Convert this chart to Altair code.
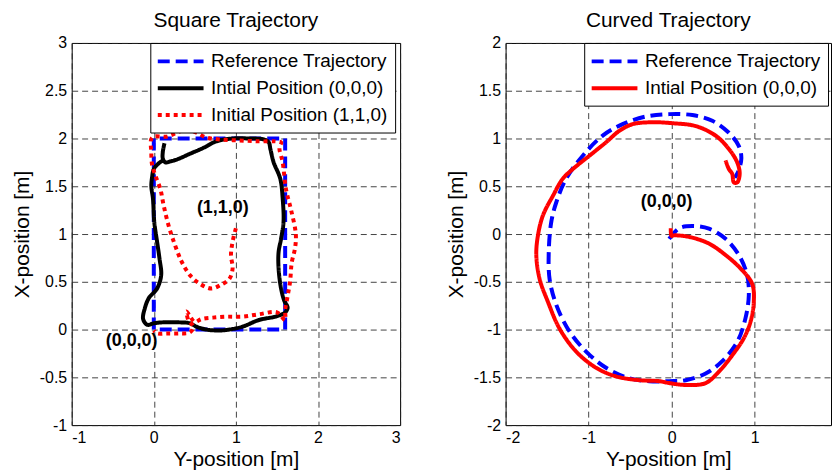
import altair as alt
import pandas as pd

FONT = "Liberation Sans"

# ---------------- Square trajectory (horizontal = Y-position, vertical = X-position)
sq_ref_y = [0, 0, 1.6, 1.6, 0]
sq_ref_x = [0, 2, 2, 0, 0]

sq_b_y = [0.13, 0.11, 0.11, 0.14, 0.2, 0.28, 0.44, 0.6, 0.76, 0.96, 1.16, 1.34, 1.4, 1.42,
          1.46, 1.54, 1.57, 1.58, 1.55, 1.52, 1.52, 1.55, 1.59, 1.63, 1.6, 1.5, 1.28, 1.08,
          0.92, 0.8, 0.64, 0.52, 0.44, 0.28, 0.12, 0.0, -0.08, -0.13, -0.11, -0.06, 0.04,
          0.09, 0.07, 0.04, 0.006, -0.01, -0.03, -0.02, 0.0, 0.06, 0.11]
sq_b_x = [1.95, 1.86, 1.79, 1.75, 1.76, 1.78, 1.84, 1.9, 1.97, 2.0, 2.0, 1.99, 1.96, 1.89,
          1.75, 1.58, 1.37, 1.125, 0.95, 0.81, 0.64, 0.43, 0.3, 0.23, 0.18, 0.14, 0.1, 0.03,
          0.0, -0.01, 0.0, 0.03, 0.066, 0.076, 0.076, 0.066, 0.05, 0.11, 0.22, 0.33, 0.43,
          0.57, 0.74, 0.92, 1.125, 1.37, 1.5, 1.6, 1.68, 1.74, 1.77]

sq_r_y = [1.0, 0.96, 0.94, 0.96, 0.92, 0.82, 0.7, 0.56, 0.44, 0.34, 0.26, 0.18, 0.12, 0.08,
          0.02, -0.02, -0.03, -0.02, 0.16, 0.28, 0.4, 0.52, 0.64, 0.8, 1.04, 1.28, 1.48, 1.55,
          1.53, 1.57, 1.61, 1.67, 1.73, 1.72, 1.68, 1.66, 1.63, 1.6, 1.6, 1.5, 1.28, 1.08,
          0.88, 0.72, 0.58, 0.5, 0.44, 0.4, 0.42, 0.48, 0.44, 0.3, 0.16, 0.04, 0.0]
sq_r_x = [1.06, 0.92, 0.78, 0.64, 0.53, 0.47, 0.43, 0.48, 0.57, 0.71, 0.88, 1.09, 1.3, 1.47,
          1.61, 1.72, 1.85, 2.01, 2.02, 2.06, 2.1, 2.06, 2.01, 1.99, 1.98, 1.97, 1.97, 1.96,
          1.9, 1.75, 1.47, 1.26, 1.0, 0.85, 0.7, 0.5, 0.35, 0.2, 0.1, 0.18, 0.16, 0.135,
          0.135, 0.125, 0.11, 0.08, 0.14, 0.19, 0.1, 0.03, -0.03, -0.04, -0.04, -0.04, -0.01]

sq_names = ["Reference Trajectory", "Intial Position (0,0,0)", "Initial Position (1,1,0)"]
sq_colors = ["#0000ff", "#000000", "#ff0000"]
sq_dashes = [[12, 6], [1, 0], [4, 4]]
sq_interp = ["linear", "catmull-rom", "catmull-rom"]

sq_lbl_text = ["(1,1,0)", "(0,0,0)"]
sq_lbl_y = [0.84, -0.27]
sq_lbl_x = [1.27, -0.125]

# ---------------- Curved trajectory
cv_ref_y = [-0.03, 0.09, 0.25, 0.45, 0.65, 0.81, 0.91, 0.93, 0.89, 0.79, 0.61, 0.41, 0.17,
            -0.03, -0.27, -0.51, -0.79, -1.03, -1.23, -1.39, -1.47, -1.48, -1.45, -1.39,
            -1.27, -1.07, -0.83, -0.59, -0.31, -0.03, 0.25, 0.49, 0.69, 0.81, 0.84, 0.8, 0.76]
cv_ref_x = [-0.05, 0.06, 0.083, 0.056, -0.05, -0.22, -0.43, -0.64, -0.88, -1.13, -1.33,
            -1.46, -1.53, -1.54, -1.54, -1.51, -1.4, -1.23, -1.02, -0.74, -0.47, -0.19,
            0.125, 0.33, 0.58, 0.82, 1.03, 1.15, 1.23, 1.255, 1.245, 1.185, 1.06, 0.92, 0.79,
            0.65, 0.59]

cv_r_y = [-0.01, 0.0, 0.03, 0.21, 0.45, 0.65, 0.83, 0.97, 0.99, 0.95, 0.87, 0.73, 0.57, 0.41,
          0.17, -0.03, -0.15, -0.39, -0.67, -0.91, -1.15, -1.35, -1.49, -1.59, -1.63, -1.61,
          -1.55, -1.43, -1.31, -1.19, -0.99, -0.79, -0.63, -0.47, -0.23, 0.01, 0.29, 0.53,
          0.69, 0.79, 0.82, 0.79, 0.75, 0.73, 0.69, 0.65]
cv_r_x = [0.06, -0.02, -0.014, -0.03, -0.1, -0.22, -0.36, -0.52, -0.71, -0.92, -1.09, -1.27,
          -1.44, -1.56, -1.58, -1.56, -1.54, -1.53, -1.49, -1.4, -1.23, -0.99, -0.71, -0.47,
          -0.22, -0.014, 0.195, 0.4, 0.58, 0.68, 0.82, 0.96, 1.08, 1.15, 1.17, 1.16, 1.13,
          1.03, 0.89, 0.75, 0.63, 0.54, 0.54, 0.63, 0.68, 0.77]

cv_names = ["Reference Trajectory", "Intial Position (0,0,0)"]
cv_colors = ["#0000ff", "#ff0000"]
cv_dashes = [[12, 6], [1, 0]]
cv_interp = ["catmull-rom", "catmull-rom"]

cv_lbl_text = ["(0,0,0)"]
cv_lbl_y = [-0.06]
cv_lbl_x = [0.33]


def long_df(series_list, field):
    rows = []
    for name, ys, xs in series_list:
        for i, (a, b) in enumerate(zip(ys, xs)):
            rows.append({"ypos": a, "xpos": b, field: name, "i": i})
    return pd.DataFrame(rows)


LBL = "replace(format(datum.value, '~g'), '\u2212', '-')"
# wide horizontal stroke used as legend swatch (unit path scaled by symbol size)
SWATCH = "M-2.42,0L2.42,0"


def panel(df, field, names, colors, dashes, interps, xdom, ydom, xticks, yticks, title, lbl,
          legend_x, w, h):
    xs = alt.Scale(domain=xdom, nice=False, zero=False)
    ys = alt.Scale(domain=ydom, nice=False, zero=False)
    xaxis = alt.Axis(values=xticks, title="Y-position [m]", labelExpr=LBL)
    yaxis = alt.Axis(values=yticks, title="X-position [m]", labelExpr=LBL)
    legend = alt.Legend(
        title=None, orient="none", legendX=legend_x, legendY=0,
        strokeColor="black", fillColor="white", padding=7, cornerRadius=0,
        labelFontSize=19, labelFont=FONT, labelColor="black", labelLimit=400,
        symbolType=SWATCH, symbolSize=361, symbolStrokeWidth=4,
        symbolOffset=12, labelOffset=19, rowPadding=5,
    )
    layers = []
    for name, interp in zip(names, interps):
        layers.append(
            alt.Chart(df).transform_filter(alt.datum[field] == name)
            .mark_line(strokeWidth=4, strokeCap="butt", strokeJoin="round", interpolate=interp)
            .encode(
                x=alt.X("ypos:Q", scale=xs, axis=xaxis),
                y=alt.Y("xpos:Q", scale=ys, axis=yaxis),
                color=alt.Color(f"{field}:N", scale=alt.Scale(domain=names, range=colors), legend=legend),
                strokeDash=alt.StrokeDash(f"{field}:N", scale=alt.Scale(domain=names, range=dashes), legend=legend),
                order=alt.Order("i:Q"),
            )
        )
    text = alt.Chart(lbl).mark_text(fontSize=18, fontWeight="bold", font=FONT, color="black").encode(
        x=alt.X("ypos:Q", scale=xs), y=alt.Y("xpos:Q", scale=ys), text="t:N"
    )
    layers.append(text)
    return alt.layer(*layers).properties(
        width=w, height=h,
        title=alt.TitleParams(title, fontSize=21, fontWeight="normal", font=FONT, offset=4),
    ).resolve_scale(color="shared", strokeDash="shared")


sq_df = long_df([(sq_names[0], sq_ref_y, sq_ref_x),
                 (sq_names[1], sq_b_y, sq_b_x),
                 (sq_names[2], sq_r_y, sq_r_x)], "s1")
cv_df = long_df([(cv_names[0], cv_ref_y, cv_ref_x),
                 (cv_names[1], cv_r_y, cv_r_x)], "s2")
sq_lbl = pd.DataFrame({"t": sq_lbl_text, "ypos": sq_lbl_y, "xpos": sq_lbl_x})
cv_lbl = pd.DataFrame({"t": cv_lbl_text, "ypos": cv_lbl_y, "xpos": cv_lbl_x})

left = panel(sq_df, "s1", sq_names, sq_colors, sq_dashes, sq_interp, [-1, 3], [-1, 3],
             [-1, 0, 1, 2, 3], [-1, -0.5, 0, 0.5, 1, 1.5, 2, 2.5, 3],
             "Square Trajectory", sq_lbl, 79, 330, 384)
# the right panel is cut by the figure edge just before Y = 2
right = panel(cv_df, "s2", cv_names, cv_colors, cv_dashes, cv_interp, [-2, 1.92], [-2, 2],
              [-2, -1, 0, 1], [-2, -1.5, -1, -0.5, 0, 0.5, 1, 1.5, 2],
              "Curved Trajectory", cv_lbl, 79, 327, 384)

chart = alt.hconcat(left, right, spacing=43).resolve_scale(
    color="independent", strokeDash="independent", x="independent", y="independent"
).resolve_legend(color="independent", strokeDash="independent").properties(
    padding={"left": 2, "top": 0, "right": 0, "bottom": 0}
).configure(
    font=FONT, background="white"
).configure_view(stroke="black", strokeWidth=1).configure_axis(
    labelFont=FONT, titleFont=FONT, labelFontSize=16, titleFontSize=21,
    titleFontWeight="normal", labelColor="black", titleColor="black",
    domain=False, ticks=False, labelPadding=5,
    grid=True, gridColor="#222222", gridDash=[6, 4], gridWidth=1, gridOpacity=0.85,
).configure_axisY(titlePadding=7).configure_axisX(labelPadding=4, titlePadding=4)

chart.save("out.html", embed_options={"renderer": "svg", "actions": False})
